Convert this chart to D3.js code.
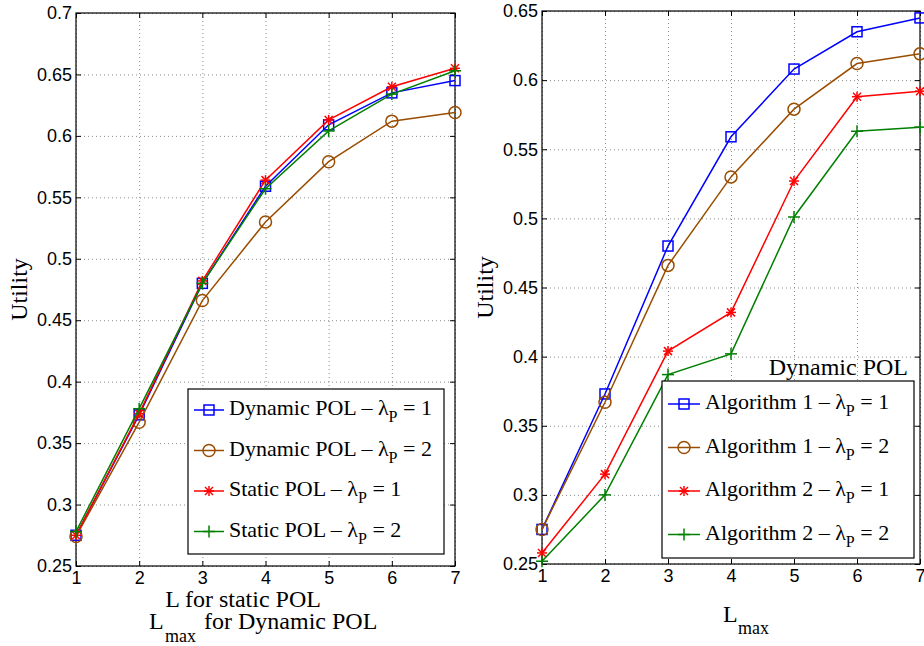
<!DOCTYPE html>
<html>
<head>
<meta charset="utf-8">
<script src="https://cdn.jsdelivr.net/npm/d3@7"></script>
<style>
  body { margin: 0; background: #fff; }
  svg { display: block; }
  .tick text { font-family: "Liberation Sans", Arial, sans-serif; font-size: 18px; fill: #000; }
  .grid line { stroke: #8c8c8c; stroke-dasharray: 1,3; }
  .grid path { display: none; }
  .lbl { font-family: "Liberation Serif", "Times New Roman", serif; fill: #000; }
</style>
</head>
<body>
<div id="chart"></div>
<script>
// x positions shared by both panels
var xVals = [1, 2, 3, 4, 5, 6, 7];
var xTickLabels = ["1", "2", "3", "4", "5", "6", "7"];

// left panel: dynamic vs static POL
var leftYTicks = [0.25, 0.3, 0.35, 0.4, 0.45, 0.5, 0.55, 0.6, 0.65, 0.7];
var leftYLabels = ["0.25", "0.3", "0.35", "0.4", "0.45", "0.5", "0.55", "0.6", "0.65", "0.7"];
var dynLambda1 = [0.275, 0.373, 0.480, 0.559, 0.609, 0.635, 0.645];
var dynLambda2 = [0.274, 0.367, 0.466, 0.530, 0.579, 0.612, 0.619];
var statLambda1 = [0.275, 0.374, 0.482, 0.564, 0.613, 0.640, 0.655];
var statLambda2 = [0.278, 0.378, 0.480, 0.557, 0.604, 0.634, 0.653];
var leftNames = ["Dynamic POL \u2013 \u03BB", "Dynamic POL \u2013 \u03BB", "Static POL \u2013 \u03BB", "Static POL \u2013 \u03BB"];

// right panel: algorithm 1 vs algorithm 2
var rightYTicks = [0.25, 0.3, 0.35, 0.4, 0.45, 0.5, 0.55, 0.6, 0.65];
var rightYLabels = ["0.25", "0.3", "0.35", "0.4", "0.45", "0.5", "0.55", "0.6", "0.65"];
var alg1Lambda1 = [0.275, 0.373, 0.480, 0.559, 0.608, 0.635, 0.645];
var alg1Lambda2 = [0.275, 0.367, 0.466, 0.530, 0.579, 0.612, 0.619];
var alg2Lambda1 = [0.258, 0.315, 0.404, 0.432, 0.527, 0.588, 0.592];
var alg2Lambda2 = [0.252, 0.300, 0.387, 0.402, 0.501, 0.563, 0.566];
var rightNames = ["Algorithm 1 \u2013 \u03BB", "Algorithm 1 \u2013 \u03BB", "Algorithm 2 \u2013 \u03BB", "Algorithm 2 \u2013 \u03BB"];

var lambdaVals = ["1", "2", "1", "2"];
var colors = ["#0000ff", "#994d00", "#ff0000", "#008000"];
var markers = ["square", "circle", "star", "plus"];

var svg = d3.select('#chart').append('svg')
    .attr('width', 924)
    .attr('height', 646);

function drawMarker(g, type, color) {
  if (type == "square") {
    g.append("rect").attr("x", -5).attr("y", -5).attr("width", 10).attr("height", 10)
      .attr("fill", "none").attr("stroke", color).attr("stroke-width", 1.5);
  } else if (type == "circle") {
    g.append("circle").attr("r", 6)
      .attr("fill", "none").attr("stroke", color).attr("stroke-width", 1.5);
  } else if (type == "star") {
    [[-5, 0, 5, 0], [0, -5, 0, 5], [-4, -4, 4, 4], [-4, 4, 4, -4]].forEach(function(s) {
      g.append("line").attr("x1", s[0]).attr("y1", s[1]).attr("x2", s[2]).attr("y2", s[3])
        .attr("stroke", color).attr("stroke-width", 1.5);
    });
  } else {
    [[-6, 0, 6, 0], [0, -6, 0, 6]].forEach(function(s) {
      g.append("line").attr("x1", s[0]).attr("y1", s[1]).attr("x2", s[2]).attr("y2", s[3])
        .attr("stroke", color).attr("stroke-width", 1.5);
    });
  }
}

function drawPanel(cfg) {
  var x = d3.scaleLinear().domain([1, 7]).range([cfg.left, cfg.right]);
  var y = d3.scaleLinear().domain([0.25, cfg.yMax]).range([cfg.bottom, cfg.top]);
  var w = cfg.right - cfg.left, h = cfg.bottom - cfg.top;

  var g = svg.append("g");

  if (cfg.before) cfg.before(g, x, y);

  // dotted grid
  g.append("g").attr("class", "grid")
    .attr("transform", "translate(0," + cfg.bottom + ")")
    .call(d3.axisBottom(x).tickValues(xVals).tickSize(-h).tickFormat(""));
  g.append("g").attr("class", "grid")
    .attr("transform", "translate(" + cfg.left + ",0)")
    .call(d3.axisLeft(y).tickValues(cfg.yTicks).tickSize(-w).tickFormat(""));

  // axes with inward ticks on all sides
  var fx = function(d, i) { return xTickLabels[i]; };
  var fy = function(d, i) { return cfg.yLabels[i]; };
  var ax = [
    g.append("g").attr("transform", "translate(0," + cfg.bottom + ")")
      .call(d3.axisBottom(x).tickValues(xVals).tickFormat(fx).tickSizeInner(-5).tickSizeOuter(0).tickPadding(5)),
    g.append("g").attr("transform", "translate(0," + cfg.top + ")")
      .call(d3.axisTop(x).tickValues(xVals).tickFormat("").tickSizeInner(-5).tickSizeOuter(0)),
    g.append("g").attr("transform", "translate(" + cfg.left + ",0)")
      .call(d3.axisLeft(y).tickValues(cfg.yTicks).tickFormat(fy).tickSizeInner(-5).tickSizeOuter(0).tickPadding(4)),
    g.append("g").attr("transform", "translate(" + cfg.right + ",0)")
      .call(d3.axisRight(y).tickValues(cfg.yTicks).tickFormat("").tickSizeInner(-5).tickSizeOuter(0))
  ];
  ax.forEach(function(a) {
    a.selectAll("path").remove();
    a.selectAll("line").attr("stroke", "#000");
    a.attr("font-family", null).attr("font-size", null);
  });

  g.append("rect")
    .attr("x", cfg.left).attr("y", cfg.top).attr("width", w).attr("height", h)
    .attr("fill", "none").attr("stroke", "#000").attr("stroke-width", 1.2);

  // series
  var line = d3.line().x(function(d, i) { return x(xVals[i]); }).y(function(d) { return y(d); });
  cfg.series.forEach(function(s, k) {
    g.append("path").datum(s)
      .attr("d", line)
      .attr("fill", "none")
      .attr("stroke", colors[k])
      .attr("stroke-width", 1.5);
    s.forEach(function(v, i) {
      var m = g.append("g").attr("transform", "translate(" + x(xVals[i]) + "," + y(v) + ")");
      drawMarker(m, markers[k], colors[k]);
    });
  });

  // legend
  var lg = cfg.legend;
  g.append("rect")
    .attr("x", lg.x).attr("y", lg.y).attr("width", lg.w).attr("height", lg.h)
    .attr("fill", "#fff").attr("stroke", "#000").attr("stroke-width", 1.2);
  cfg.names.forEach(function(name, k) {
    var ly = lg.y + lg.first + k * lg.step;
    g.append("line")
      .attr("x1", lg.x + 6).attr("x2", lg.x + 6 + lg.sample)
      .attr("y1", ly).attr("y2", ly)
      .attr("stroke", colors[k]).attr("stroke-width", 1.5);
    var m = g.append("g").attr("transform", "translate(" + (lg.x + 6 + lg.sample / 2) + "," + ly + ")");
    drawMarker(m, markers[k], colors[k]);
    var t = g.append("text").attr("class", "lbl")
      .attr("x", lg.x + 11 + lg.sample).attr("y", ly + 5)
      .attr("font-size", 22);
    t.append("tspan").text(name);
    t.append("tspan").attr("font-size", 16).attr("dy", 7).text("P");
    t.append("tspan").attr("dy", -7).text(" = " + lambdaVals[k]);
  });

  // y label
  svg.append("text").attr("class", "lbl")
    .attr("transform", "translate(" + cfg.yLabelX + "," + ((cfg.top + cfg.bottom) / 2) + ") rotate(-90)")
    .attr("text-anchor", "middle")
    .attr("font-size", 24)
    .text("Utility");
}

drawPanel({
  left: 76, right: 455, top: 13, bottom: 566, yMax: 0.7,
  yTicks: leftYTicks, yLabels: leftYLabels,
  series: [dynLambda1, dynLambda2, statLambda1, statLambda2],
  names: leftNames,
  legend: {x: 188, y: 389, w: 256, h: 165, first: 21, step: 40.5, sample: 30},
  yLabelX: 27
});

drawPanel({
  left: 542, right: 920, top: 11, bottom: 564, yMax: 0.65,
  yTicks: rightYTicks, yLabels: rightYLabels,
  series: [alg1Lambda1, alg1Lambda2, alg2Lambda1, alg2Lambda2],
  names: rightNames,
  legend: {x: 662, y: 381, w: 252, h: 177, first: 23, step: 43.5, sample: 32},
  yLabelX: 493,
  before: function(g) {
    g.append("text").attr("class", "lbl")
      .attr("x", 908).attr("y", 375)
      .attr("text-anchor", "end")
      .attr("font-size", 24)
      .text("Dynamic POL");
  }
});

// x labels
svg.append("text").attr("class", "lbl")
  .attr("x", 243).attr("y", 607)
  .attr("text-anchor", "middle")
  .attr("font-size", 24)
  .text("L for static POL");

var xl = svg.append("text").attr("class", "lbl").attr("font-size", 24);
xl.append("tspan").attr("x", 149).attr("y", 629).text("L");
xl.append("tspan").attr("x", 165).attr("y", 642).attr("font-size", 18).text("max");
xl.append("tspan").attr("x", 204).attr("y", 629).text("for Dynamic POL");

var xr = svg.append("text").attr("class", "lbl").attr("font-size", 24);
xr.append("tspan").attr("x", 723).attr("y", 622).text("L");
xr.append("tspan").attr("x", 738).attr("y", 634).attr("font-size", 18).text("max");
</script>
</body>
</html>
